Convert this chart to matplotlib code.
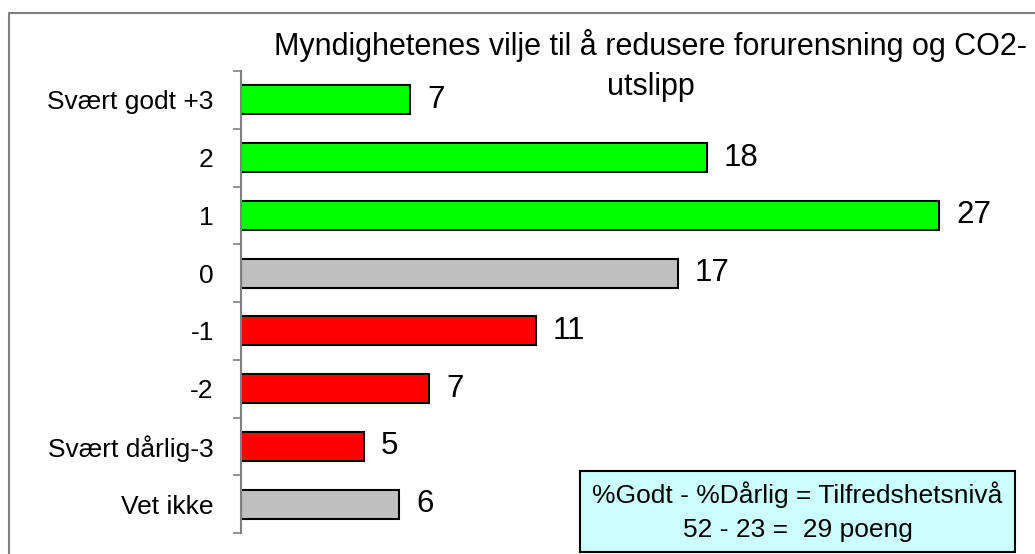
import matplotlib
matplotlib.use("Agg")
import matplotlib.pyplot as plt
from matplotlib.lines import Line2D
from matplotlib.patches import Rectangle

plt.rcParams['font.family'] = ['Liberation Sans', 'DejaVu Sans']

categories = ["Svært godt +3", "2", "1", "0", "-1", "-2", "Svært dårlig-3", "Vet ikke"]
values = [6.54, 18.0, 26.98, 16.89, 11.40, 7.29, 4.76, 6.12]
colors = ["#00FF00", "#00FF00", "#00FF00", "#C0C0C0", "#FF0000", "#FF0000", "#FF0000", "#C0C0C0"]
title_lines = ["Myndighetenes vilje til å redusere forurensning og CO2-", "utslipp"]
box_text = "%Godt - %Dårlig = Tilfredshetsnivå\n52 - 23 =  29 poeng"

W, H = 1035, 554
fig = plt.figure(figsize=(W / 100, H / 100), dpi=100)

ax_left, ax_right, ax_top, ax_bottom = 240.7, 240.7 + 30 * 25.88, 71, 533
ax = fig.add_axes([ax_left / W, (H - ax_bottom) / H, (ax_right - ax_left) / W, (ax_bottom - ax_top) / H])

ypos = list(range(len(categories)))
ax.barh(ypos, values, height=0.5, color=colors, edgecolor="black", linewidth=1.5)
for y, v in zip(ypos, values):
    ax.annotate(f"{v:.0f}", xy=(v, y), xytext=(12.2, 0), textcoords="offset points",
                ha="left", va="center", fontsize=22.5)

ax.set_xlim(0, 30)
ax.set_ylim(len(categories) - 0.5, -0.5)
ax.set_yticks(ypos)
ax.set_yticklabels(categories, fontsize=19)
ax.tick_params(axis="y", which="major", length=0, pad=19.4)
ax.set_yticks([i - 0.5 for i in range(len(categories) + 1)], minor=True)
ax.tick_params(axis="y", which="minor", length=6, width=1.2, color="#808080")
ax.set_xticks([])
for s in ["top", "right", "bottom"]:
    ax.spines[s].set_visible(False)
ax.spines["left"].set_color("#808080")
ax.spines["left"].set_linewidth(1.5)

# title (two lines as separate texts)
for line, yb in zip(title_lines, [55, 95]):
    fig.text(651 / W, 1 - yb / H, line, ha="center", va="baseline", fontsize=22)

# info box
bx0, bx1, by0, by1 = 580, 1015, 471, 552
fig.patches.append(Rectangle((bx0 / W, 1 - by1 / H), (bx1 - bx0) / W, (by1 - by0) / H,
                             transform=fig.transFigure, facecolor="#CCFFFF", edgecolor="black",
                             linewidth=1.5, zorder=5))
fig.text((bx0 + bx1) / 2 / W, 1 - (by0 + by1) / 2 / H, box_text, ha="center", va="center",
         fontsize=19, linespacing=1.5, zorder=6)

# outer frame (left and top)
fig.add_artist(Line2D([9 / W, 9 / W, 1.0], [0.0, 1 - 13 / H, 1 - 13 / H],
                      transform=fig.transFigure, color="#808080", linewidth=1.5))

fig.savefig("out.png", dpi=100)
